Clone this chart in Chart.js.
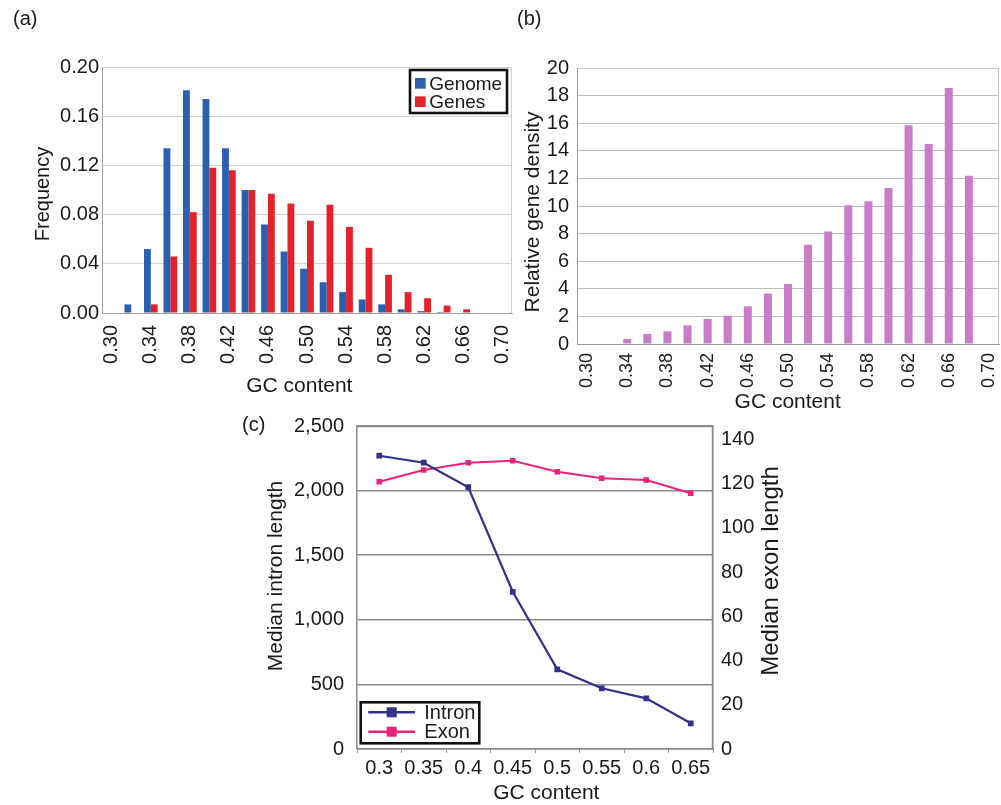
<!DOCTYPE html>
<html>
<head>
<meta charset="utf-8">
<title>GC content panels</title>
<script src="https://cdn.jsdelivr.net/npm/chart.js@4.4.0/dist/chart.umd.min.js"></script>
<style>
  html, body { margin: 0; padding: 0; background: #fff; }
  #page { position: relative; width: 1001px; height: 805px; overflow: hidden;
          font-family: 'Liberation Sans', Arial, sans-serif; color: #1a1a1a; }
  canvas { position: absolute; }
  .tag { position: absolute; font-size: 20px; line-height: 24px; }
</style>
</head>
<body>
<div id="page">
  <canvas id="chartA" width="520" height="400" style="left:0;top:0"></canvas>
  <canvas id="chartB" width="501" height="420" style="left:500px;top:0"></canvas>
  <canvas id="chartC" width="560" height="405" style="left:240px;top:400px"></canvas>
  <div class="tag" style="left:13px;top:6px">(a)</div>
  <div class="tag" style="left:517px;top:6px">(b)</div>
  <div class="tag" style="left:242px;top:412px">(c)</div>
</div>
<script>
// --- DATA ---
const gcBins = ['0.30', '0.32', '0.34', '0.36', '0.38', '0.40', '0.42', '0.44', '0.46', '0.48', '0.50',
                '0.52', '0.54', '0.56', '0.58', '0.60', '0.62', '0.64', '0.66', '0.68', '0.70'];
const gcTickLabels = ['0.30', '0.34', '0.38', '0.42', '0.46', '0.50', '0.54', '0.58', '0.62', '0.66', '0.70'];

// (a) frequency
const genomeFreq = [0, 0.007, 0.052, 0.134, 0.181, 0.174, 0.134, 0.100, 0.072, 0.050, 0.036,
                    0.025, 0.017, 0.011, 0.007, 0.003, 0.0015, 0.0008, 0, 0, 0];
const genesFreq = [0, 0, 0.007, 0.046, 0.082, 0.118, 0.116, 0.100, 0.097, 0.089, 0.075,
                   0.088, 0.070, 0.053, 0.031, 0.017, 0.012, 0.006, 0.003, 0, 0];
const freqTicks = ['0.00', '0.04', '0.08', '0.12', '0.16', '0.20'];

// (b) relative gene density
const geneDensity = [0, 0, 0.36, 0.72, 0.92, 1.35, 1.81, 2.05, 2.73, 3.65, 4.35,
                     7.2, 8.16, 10.05, 10.34, 11.3, 15.85, 14.5, 18.55, 12.2, 0];

// (c) median lengths
const gcSteps = ['0.3', '0.35', '0.4', '0.45', '0.5', '0.55', '0.6', '0.65'];
const intronMedian = [2270, 2216, 2026, 1217, 617, 470, 392, 199];
const exonMedian = [120.8, 126.1, 129.4, 130.3, 125.3, 122.4, 121.6, 115.6];
const exonTicks = [0, 20, 40, 60, 80, 100, 120, 140];

const FONT = "'Liberation Sans', Arial, sans-serif";
Chart.defaults.font.family = FONT;
Chart.defaults.color = '#1a1a1a';

// --- PLUGINS ---

// axis titles placed by hand (the right title in (c) reads upward)
const freeText = {
    id: 'freeText',
    afterDraw(chart, args, opts) {
        const ctx = chart.ctx;
        (opts.items || []).forEach(t => {
            ctx.save();
            ctx.font = `${t.size}px ${FONT}`;
            ctx.fillStyle = '#1a1a1a';
            ctx.textAlign = 'center';
            ctx.textBaseline = 'middle';
            ctx.translate(t.x, t.y);
            if (t.rotate) ctx.rotate(-Math.PI / 2);
            ctx.fillText(t.text, 0, 0);
            ctx.restore();
        });
    }
};

// top + right edge of the plot box
const plotFrame = {
    id: 'plotFrame',
    beforeDatasetsDraw(chart, args, opts) {
        if (!opts.color) return;
        const { ctx, chartArea: a } = chart;
        ctx.save();
        ctx.strokeStyle = opts.color;
        ctx.lineWidth = opts.width || 1;
        ctx.beginPath();
        ctx.moveTo(a.left, a.top + 0.5);
        ctx.lineTo(a.right - 0.5, a.top + 0.5);
        ctx.lineTo(a.right - 0.5, a.bottom);
        ctx.stroke();
        ctx.restore();
    }
};

// boxed legend inside the plot
const boxLegend = {
    id: 'boxLegend',
    afterDatasetsDraw(chart, args, opts) {
        if (!opts.rows) return;
        const { ctx, chartArea: a } = chart;
        const x = opts.right != null ? a.right - opts.right - opts.w : a.left + opts.left;
        const y = opts.top != null ? a.top + opts.top : a.bottom - opts.bottom - opts.h;
        ctx.save();
        ctx.fillStyle = '#fff';
        ctx.fillRect(x, y, opts.w, opts.h);
        ctx.lineWidth = 2.6;
        ctx.strokeStyle = '#111';
        ctx.strokeRect(x, y, opts.w, opts.h);
        ctx.font = `${opts.size}px ${FONT}`;
        ctx.textBaseline = 'middle';
        chart.data.datasets.forEach((ds, i) => {
            const cy = y + opts.rows[i];
            const color = ds.borderColor && opts.line ? ds.borderColor : ds.backgroundColor;
            ctx.fillStyle = color;
            if (opts.line) {
                ctx.strokeStyle = color;
                ctx.lineWidth = 2.5;
                ctx.beginPath();
                ctx.moveTo(x + opts.line[0], cy);
                ctx.lineTo(x + opts.line[1], cy);
                ctx.stroke();
                ctx.fillRect(x + opts.sx - opts.sq / 2, cy - opts.sq / 2, opts.sq, opts.sq);
            } else {
                ctx.fillRect(x + opts.sx, cy - opts.sq / 2, opts.sq, opts.sq);
            }
            ctx.fillStyle = '#1a1a1a';
            ctx.fillText(ds.label, x + opts.textX, cy + 1);
        });
        ctx.restore();
    }
};

function xTickEveryOther(value, index) {
    return gcTickLabels.includes(gcBins[index]) ? gcBins[index] : '';
}

// fixed axis box, no extra side padding from rotated labels
function fixX(h) {
    return scale => { scale.height = h; scale.paddingLeft = 0; scale.paddingRight = 0; };
}

// --- (a) ---
new Chart(document.getElementById('chartA'), {
    type: 'bar',
    data: {
        labels: gcBins,
        datasets: [
            { label: 'Genome', data: genomeFreq, backgroundColor: '#2c5eb2' },
            { label: 'Genes', data: genesFreq, backgroundColor: '#e3222b' }
        ]
    },
    options: {
        responsive: false,
        animation: false,
        categoryPercentage: 0.7,
        barPercentage: 1.0,
        layout: { padding: { top: 67, right: 8, left: 0, bottom: 0 } },
        plugins: {
            legend: { display: false },
            tooltip: { enabled: false },
            freeText: { items: [
                { text: 'Frequency', x: 43.3, y: 194, rotate: true, size: 20 },
                { text: 'GC content', x: 299.3, y: 386, size: 21 }
            ] },
            plotFrame: { color: '#d0d0d0' },
            boxLegend: { right: 5, top: 3, w: 97, h: 43, rows: [13.3, 31.7], sx: 5, sq: 10.7, textX: 19.3, size: 19 }
        },
        scales: {
            x: {
                grid: { display: false, drawTicks: false },
                border: { color: '#a0a0a0' },
                ticks: { autoSkip: false, minRotation: 90, maxRotation: 90, padding: 12,
                         font: { size: 20 }, callback: xTickEveryOther },
                afterFit: fixX(87)
            },
            y: {
                min: 0, max: 0.2,
                grid: { color: '#d2d2d2', drawTicks: false },
                border: { color: '#a0a0a0' },
                ticks: { stepSize: 0.02, padding: 3, font: { size: 20 },
                         callback: v => freqTicks.includes(v.toFixed(2)) ? v.toFixed(2) : '' },
                afterFit(scale) { scale.width = 102; }
            }
        }
    },
    plugins: [freeText, plotFrame, boxLegend]
});

// --- (b) ---
new Chart(document.getElementById('chartB'), {
    type: 'bar',
    data: {
        labels: gcBins,
        datasets: [{ label: 'Relative gene density', data: geneDensity, backgroundColor: '#c97dc9' }]
    },
    options: {
        responsive: false,
        animation: false,
        categoryPercentage: 0.4,
        barPercentage: 1.0,
        layout: { padding: { top: 68, right: 2, left: 0, bottom: 0 } },
        plugins: {
            legend: { display: false },
            tooltip: { enabled: false },
            freeText: { items: [
                { text: 'Relative gene density', x: 33.3, y: 212, rotate: true, size: 21 },
                { text: 'GC content', x: 287.7, y: 402.7, size: 21 }
            ] },
            plotFrame: { color: '#c8c8c8' }
        },
        scales: {
            x: {
                grid: { display: false, drawTicks: false },
                border: { color: '#999' },
                ticks: { autoSkip: false, minRotation: 90, maxRotation: 90, padding: 9,
                         font: { size: 18 }, callback: xTickEveryOther },
                afterFit: fixX(76)
            },
            y: {
                min: 0, max: 20,
                grid: { color: '#bdbdbd', drawTicks: false },
                border: { color: '#999' },
                ticks: { stepSize: 2, padding: 8, font: { size: 20 } },
                afterFit(scale) { scale.width = 77; }
            }
        }
    },
    plugins: [freeText, plotFrame]
});

// --- (c) ---
new Chart(document.getElementById('chartC'), {
    type: 'line',
    data: {
        labels: gcSteps,
        datasets: [
            { label: 'Intron', data: intronMedian, yAxisID: 'y',
              borderColor: '#33318a', backgroundColor: '#33318a', borderWidth: 2.2,
              pointStyle: 'rect', pointRadius: 2.5, pointBackgroundColor: '#33318a' },
            { label: 'Exon', data: exonMedian, yAxisID: 'y1',
              borderColor: '#e9237c', backgroundColor: '#e9237c', borderWidth: 2,
              pointStyle: 'rect', pointRadius: 2.5, pointBackgroundColor: '#e9237c' }
        ]
    },
    options: {
        responsive: false,
        animation: false,
        layout: { padding: { top: 26, right: 0, left: 0, bottom: 0 } },
        plugins: {
            legend: { display: false },
            tooltip: { enabled: false },
            freeText: { items: [
                { text: 'Median intron length', x: 36.7, y: 176, rotate: true, size: 21 },
                { text: 'Median exon length', x: 531.7, y: 171, rotate: true, size: 24 },
                { text: 'GC content', x: 306.3, y: 393.5, size: 21 }
            ] },
            plotFrame: { color: '#8a8a8a', width: 1.5 },
            boxLegend: { left: 3.7, bottom: 5.7, w: 118.6, h: 41, rows: [10, 29.4],
                         line: [7.6, 54.3], sx: 31, sq: 10, textX: 63.6, size: 20 }
        },
        scales: {
            x: {
                offset: true,
                // small tick marks between categories, below the axis only
                grid: { display: true, drawOnChartArea: false, offset: true,
                        drawTicks: true, tickLength: 4, color: '#9a9a9a' },
                border: { color: '#8a8a8a', width: 1.5 },
                ticks: { padding: 3, maxRotation: 0, minRotation: 0, autoSkip: false, font: { size: 20 } },
                afterFit: fixX(56)
            },
            y: {
                position: 'left',
                min: 0, max: 2500,
                grid: { color: '#8a8a8a', lineWidth: 1.5, drawTicks: false },
                border: { color: '#8a8a8a', width: 1.5 },
                ticks: { stepSize: 500, padding: 13, font: { size: 20 },
                         callback: v => v.toLocaleString('en-US') },
                afterFit(scale) { scale.width = 117; }
            },
            y1: {
                position: 'right',
                min: 0, max: 146,
                grid: { display: false, drawTicks: false },
                border: { color: '#8a8a8a', width: 1.5 },
                ticks: { padding: 8, font: { size: 20 } },
                afterBuildTicks(scale) { scale.ticks = exonTicks.map(v => ({ value: v })); },
                afterFit(scale) { scale.width = 87; }
            }
        }
    },
    plugins: [freeText, plotFrame, boxLegend]
});
</script>
</body>
</html>
